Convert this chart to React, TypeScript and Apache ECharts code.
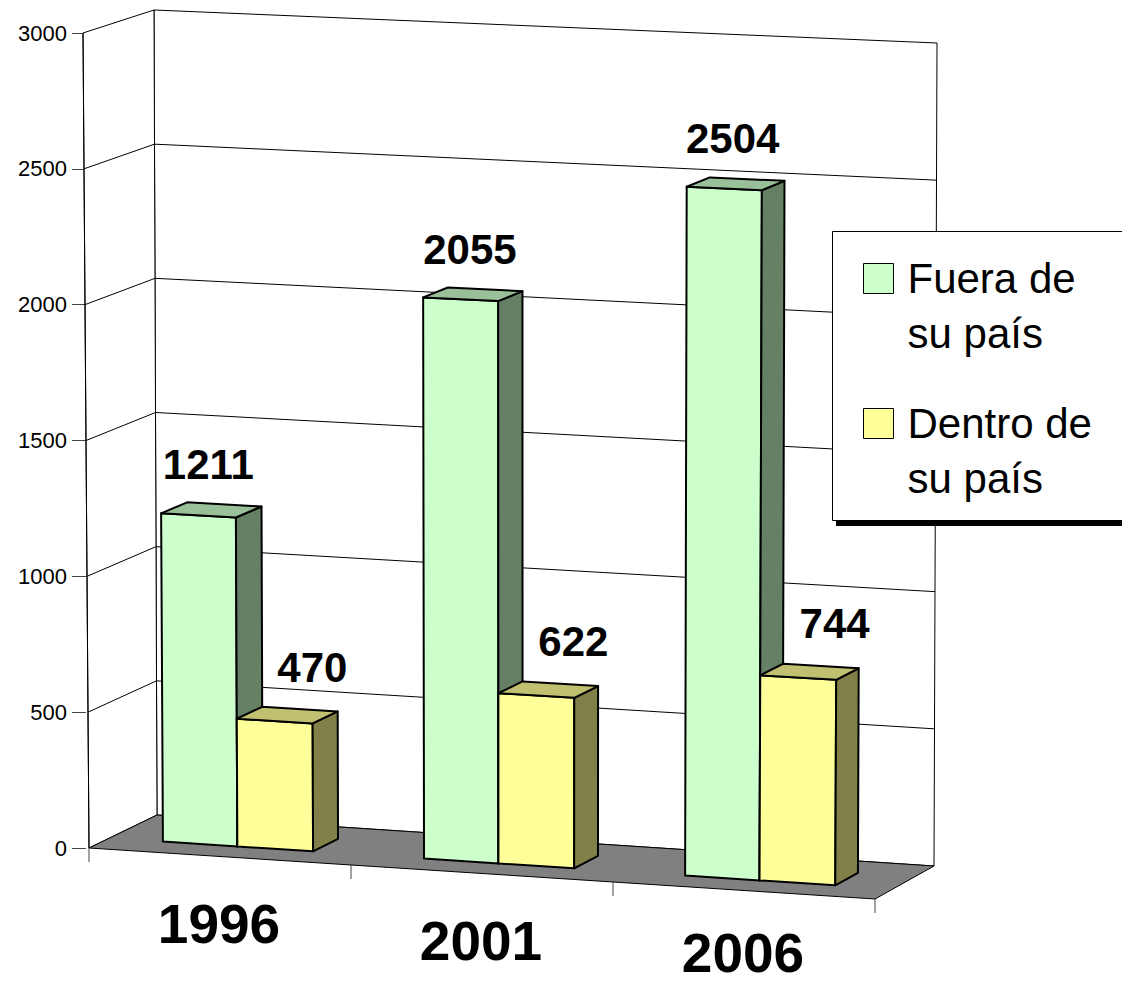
import React, { useEffect, useRef } from 'react';
import * as echarts from 'echarts';

// ---------- data ----------
const categories = ['1996', '2001', '2006'];
const fueraValues = [1211, 2055, 2504];
const dentroValues = [470, 622, 744];
const seriesNames = ['Fuera de su país', 'Dentro de su país'];
const yMax = 3000;
const yInterval = 500;

// ---------- layout (pixel geometry of the 3D box) ----------
const CH = 984;
const FONT = 'Liberation Sans, Arial, Helvetica, sans-serif';
const GRID = { left: 86, right: 247, top: 33, bottom: 136 };
// floor corners: front-left, front-right, back-left, back-right
const F0 = [89, 848];
const F1 = [875, 899];
const B0 = [157, 815];
const B1 = [934, 866];
// full-height (value = max) of verticals at those corners, and their lean
const HGT = [815, 833, 805, 823];
const LEAN = [-6, 5, -3, 3];
const NCAT = 3;
const D_FRONT = 0.3;
const D_BACK = 0.68;
const CAT_FONT = 55;
const CAT_DY = 67;

function bil(s: number, d: number, a: number, b: number, c: number, e: number) {
  return (a * (1 - s) + b * s) * (1 - d) + (c * (1 - s) + e * s) * d;
}
function proj(u: number, d: number, fv: number): number[] {
  const s = u / NCAT;
  const bx = bil(s, d, F0[0], F1[0], B0[0], B1[0]);
  const by = bil(s, d, F0[1], F1[1], B0[1], B1[1]);
  const h = bil(s, d, HGT[0], HGT[1], HGT[2], HGT[3]);
  const l = bil(s, d, LEAN[0], LEAN[1], LEAN[2], LEAN[3]);
  return [bx + l * fv, by - h * fv];
}

function makeBarRender(
  uStart: number,
  uEnd: number,
  colors: { front: string; side: string; top: string },
  labelDx: number,
  labelDy: number
) {
  return (params: any, api: any) => {
    const idx = api.value(0);
    const v = api.value(1);
    const p0 = api.coord([idx, 0]);
    const pv = api.coord([idx, v]);
    const pm = api.coord([idx, yMax]);
    const band = api.size([1, 0])[0];
    const cs = params.coordSys;
    const uc = (p0[0] - cs.x) / band;
    const fv = (p0[1] - pv[1]) / (p0[1] - pm[1]);
    const u0 = uc + uStart;
    const u1 = uc + uEnd;
    const stroke = { stroke: '#000', lineWidth: 2, lineJoin: 'round' };
    const front = [proj(u0, D_FRONT, 0), proj(u1, D_FRONT, 0), proj(u1, D_FRONT, fv), proj(u0, D_FRONT, fv)];
    const side = [proj(u1, D_FRONT, 0), proj(u1, D_BACK, 0), proj(u1, D_BACK, fv), proj(u1, D_FRONT, fv)];
    const top = [proj(u0, D_FRONT, fv), proj(u1, D_FRONT, fv), proj(u1, D_BACK, fv), proj(u0, D_BACK, fv)];
    const lp = proj((u0 + u1) / 2, (D_FRONT + D_BACK) / 2, fv);
    return {
      type: 'group',
      children: [
        { type: 'polygon', shape: { points: front }, style: { fill: colors.front, ...stroke } },
        { type: 'polygon', shape: { points: side }, style: { fill: colors.side, ...stroke } },
        { type: 'polygon', shape: { points: top }, style: { fill: colors.top, ...stroke } },
        {
          type: 'text',
          x: lp[0] + labelDx,
          y: lp[1] + labelDy,
          style: {
            text: String(v),
            fill: '#000',
            fontSize: 42,
            fontWeight: 'bold',
            fontFamily: FONT,
            align: 'center',
            verticalAlign: 'middle',
          },
        },
      ],
    };
  };
}

function renderWalls(params: any, api: any) {
  const p0 = api.coord([0, 0]);
  const pm = api.coord([0, yMax]);
  const band = api.size([1, 0])[0];
  const cs = params.coordSys;
  const children: any[] = [];
  const line = { stroke: '#000', lineWidth: 1 };
  const floorPts = [proj(0, 0, 0), proj(NCAT, 0, 0), proj(NCAT, 1, 0), proj(0, 1, 0)];
  // back wall
  children.push({
    type: 'polygon',
    shape: { points: [proj(0, 1, 0), proj(NCAT, 1, 0), proj(NCAT, 1, 1), proj(0, 1, 1)] },
    style: { fill: '#fff', ...line },
  });
  // left wall
  children.push({
    type: 'polygon',
    shape: { points: [proj(0, 0, 0), proj(0, 1, 0), proj(0, 1, 1), proj(0, 0, 1)] },
    style: { fill: '#fff', ...line },
  });
  // gridlines
  for (let t = yInterval; t < yMax; t += yInterval) {
    const pt = api.coord([0, t]);
    const fv = (p0[1] - pt[1]) / (p0[1] - pm[1]);
    children.push({
      type: 'polyline',
      shape: { points: [proj(0, 0, fv), proj(0, 1, fv), proj(NCAT, 1, fv)] },
      style: { fill: 'none', ...line },
    });
  }
  // floor
  children.push({ type: 'polygon', shape: { points: floorPts }, style: { fill: '#808080', ...line } });
  // front ticks under the floor edge
  for (let u = 0; u <= NCAT; u++) {
    const p = proj(u, 0, 0);
    children.push({
      type: 'line',
      shape: { x1: p[0], y1: p[1], x2: p[0], y2: p[1] + 14 },
      style: { stroke: '#444', lineWidth: 1 },
    });
  }
  // value axis line (front-left vertical)
  const a = proj(0, 0, 0);
  const b = proj(0, 0, 1);
  children.push({
    type: 'line',
    shape: { x1: a[0], y1: a[1], x2: b[0], y2: b[1] },
    style: { stroke: '#000', lineWidth: 1 },
  });
  // category labels along the slanted front edge
  categories.forEach((c, i) => {
    const pc = api.coord([i, 0]);
    const uc = (pc[0] - cs.x) / band;
    const p = proj(uc, 0, 0);
    const y = Math.min(p[1] + CAT_DY, CH - CAT_FONT * 0.57);
    children.push({
      type: 'text',
      x: p[0] - 1,
      y,
      style: {
        text: c,
        fill: '#000',
        fontSize: CAT_FONT,
        fontWeight: 'bold',
        fontFamily: FONT,
        align: 'center',
        verticalAlign: 'middle',
      },
    });
  });
  return { type: 'group', children };
}

export default function App() {
  const ref = useRef<HTMLDivElement>(null);
  useEffect(() => {
    if (!ref.current) return;
    const chart = echarts.init(ref.current, null, { renderer: 'svg' });
    const fueraColors = { front: '#CCFFCC', side: '#668066', top: '#99C099' };
    const dentroColors = { front: '#FFFF99', side: '#808048', top: '#C0C070' };
    const option: any = {
      animation: false,
      backgroundColor: '#fff',
      grid: { left: GRID.left, right: GRID.right, top: GRID.top, bottom: GRID.bottom, containLabel: false },
      xAxis: {
        type: 'category',
        data: categories,
        axisLine: { show: false },
        axisTick: { show: false },
        splitLine: { show: false },
        axisLabel: { show: false },
      },
      yAxis: {
        type: 'value',
        min: 0,
        max: yMax,
        interval: yInterval,
        axisLine: { show: false },
        splitLine: { show: false },
        axisTick: { show: true, length: 14, lineStyle: { color: '#444', width: 1 } },
        axisLabel: {
          margin: 19,
          fontSize: 22,
          fontFamily: FONT,
          color: '#000',
          formatter: (v: number) => String(v),
        },
      },
      legend: {
        orient: 'vertical',
        left: 863,
        top: 196,
        padding: 0,
        itemWidth: 30,
        itemHeight: 30,
        itemGap: -20,
        icon: 'rect',
        selectedMode: false,
        z: 20,
        data: [
          { name: seriesNames[0], itemStyle: { color: fueraColors.front, borderColor: '#000', borderWidth: 1 } },
          { name: seriesNames[1], itemStyle: { color: dentroColors.front, borderColor: '#000', borderWidth: 1 } },
        ],
        formatter: (name: string) => '\n' + name.replace(' su ', '\nsu '),
        textStyle: {
          fontSize: 42,
          lineHeight: 55,
          fontFamily: FONT,
          color: '#000',
          padding: [0, 0, 0, 9],
        },
      },
      graphic: [
        { type: 'rect', z: 10, shape: { x: 836, y: 520, width: 300, height: 6 }, style: { fill: '#000' } },
        {
          type: 'rect',
          z: 10,
          shape: { x: 832.5, y: 231.5, width: 300, height: 289 },
          style: { fill: '#fff', stroke: '#000', lineWidth: 1 },
        },
      ],
      series: [
        {
          type: 'custom',
          name: 'walls',
          z: 1,
          clip: false,
          silent: true,
          renderItem: renderWalls,
          data: [[0, 0]],
          encode: { x: 0, y: 1 },
        },
        {
          type: 'custom',
          name: seriesNames[0],
          z: 3,
          clip: false,
          itemStyle: { color: fueraColors.front },
          renderItem: makeBarRender(-0.295, -0.01, fueraColors, -3, -45),
          data: categories.map((c, i) => [i, fueraValues[i]]),
          encode: { x: 0, y: 1 },
        },
        {
          type: 'custom',
          name: seriesNames[1],
          z: 4,
          clip: false,
          itemStyle: { color: dentroColors.front },
          renderItem: makeBarRender(-0.01, 0.28, dentroColors, 25, -48),
          data: categories.map((c, i) => [i, dentroValues[i]]),
          encode: { x: 0, y: 1 },
        },
      ],
    };
    chart.setOption(option);
    return () => chart.dispose();
  }, []);
  return <div ref={ref} style={{ position: 'absolute', left: 0, top: 0, width: 1122, height: 984 }} />;
}
